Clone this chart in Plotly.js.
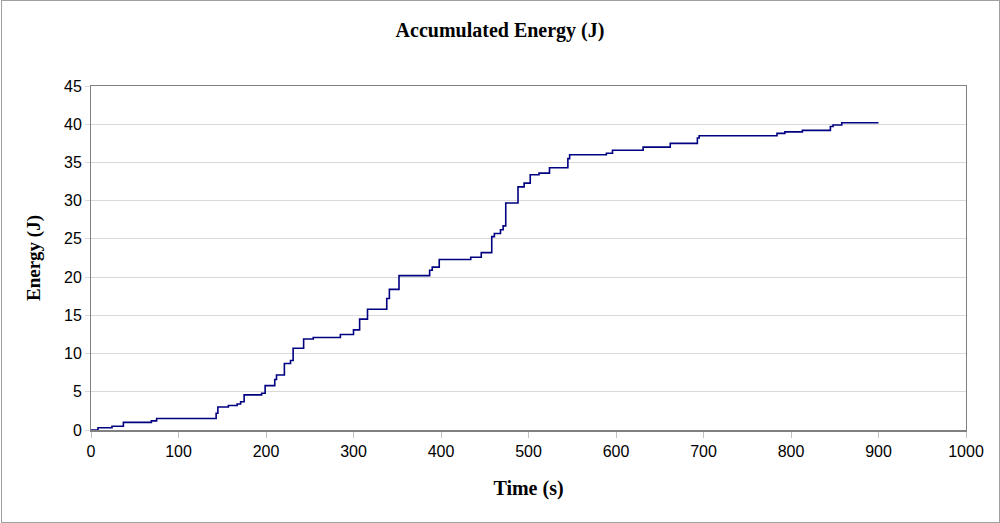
<!DOCTYPE html>
<html>
<head>
<meta charset="utf-8">
<script src="https://cdn.plot.ly/plotly-3.0.1.min.js"></script>
<style>
body{margin:0;padding:0;background:#fff;}
#wrap{position:relative;width:1000px;height:523px;}
#chart{width:1000px;height:523px;}
#frame{position:absolute;left:1px;top:0px;width:997px;height:521px;border:1px solid #a0a0a0;pointer-events:none;}
</style>
</head>
<body>
<div id="wrap"><div id="chart"></div><div id="frame"></div></div>
<script>
const timeS = [0, 8, 24, 37, 69, 75, 143, 145, 157, 167, 171, 175, 195, 199, 210, 212, 221, 228, 231, 243, 254, 285, 300, 307, 316, 338, 341, 352, 387, 390, 398, 434, 446, 458, 461, 468, 471, 474, 488, 495, 502, 512, 524, 545, 547, 589, 596, 631, 662, 693, 695, 784, 793, 813, 845, 848, 858, 900];
const energyJ = [0, 0.3, 0.5, 1.0, 1.2, 1.5, 2.2, 3.0, 3.2, 3.4, 3.7, 4.6, 4.8, 5.8, 6.6, 7.2, 8.7, 9.1, 10.7, 11.9, 12.1, 12.5, 13.1, 14.5, 15.8, 17.2, 18.4, 20.2, 20.9, 21.3, 22.3, 22.6, 23.2, 25.3, 25.7, 26.2, 26.7, 29.7, 31.8, 32.3, 33.4, 33.6, 34.3, 35.5, 36.0, 36.2, 36.6, 37.0, 37.5, 38.2, 38.5, 38.8, 39.0, 39.2, 39.7, 39.9, 40.2, 40.2];
const xTicks = [0, 100, 200, 300, 400, 500, 600, 700, 800, 900, 1000];
const yTicks = [0, 5, 10, 15, 20, 25, 30, 35, 40, 45];

const trace = {
  x: timeS, y: energyJ, type: 'scatter', mode: 'lines',
  line: {shape: 'hv', color: '#000080', width: 1.6},
  hoverinfo: 'x+y'
};
const serif = 'Liberation Serif, Times New Roman, serif';
const sans = 'Liberation Sans, Arial, sans-serif';
const layout = {
  width: 1000, height: 523,
  margin: {l: 91, r: 34, t: 86, b: 93},
  paper_bgcolor: '#ffffff', plot_bgcolor: '#ffffff',
  showlegend: false,
  title: {text: '<b>Accumulated Energy (J)</b>', font: {family: serif, size: 20, color: '#000'}, x: 0.5, xanchor: 'center', xref: 'container', y: 0.943, yanchor: 'middle'},
  xaxis: {
    range: [0, 1000], tickvals: xTicks, ticktext: xTicks.map(String),
    showgrid: false, zeroline: false,
    showline: true, linecolor: '#808080', linewidth: 1.5, mirror: true,
    ticks: 'outside', ticklen: 6, tickcolor: '#c0c0c0', tickwidth: 1,
    tickfont: {family: sans, size: 16, color: '#000'},
    title: {text: '<b>Time (s)</b>', font: {family: serif, size: 20, color: '#000'}, standoff: 22}
  },
  yaxis: {
    range: [0, 45], tickvals: yTicks, ticktext: yTicks.map(String),
    showgrid: true, gridcolor: '#d9d9d9', gridwidth: 1, zeroline: false,
    showline: true, linecolor: '#808080', linewidth: 1, mirror: true,
    ticks: 'outside', ticklen: 5, tickcolor: '#d9d9d9', tickwidth: 1,
    tickfont: {family: sans, size: 16, color: '#000'},
    title: {text: '<b>Energy (J)</b>', font: {family: serif, size: 19, color: '#000'}, standoff: 18}
  }
};
Plotly.newPlot('chart', [trace], layout, {displayModeBar: false, staticPlot: true});
</script>
</body>
</html>
